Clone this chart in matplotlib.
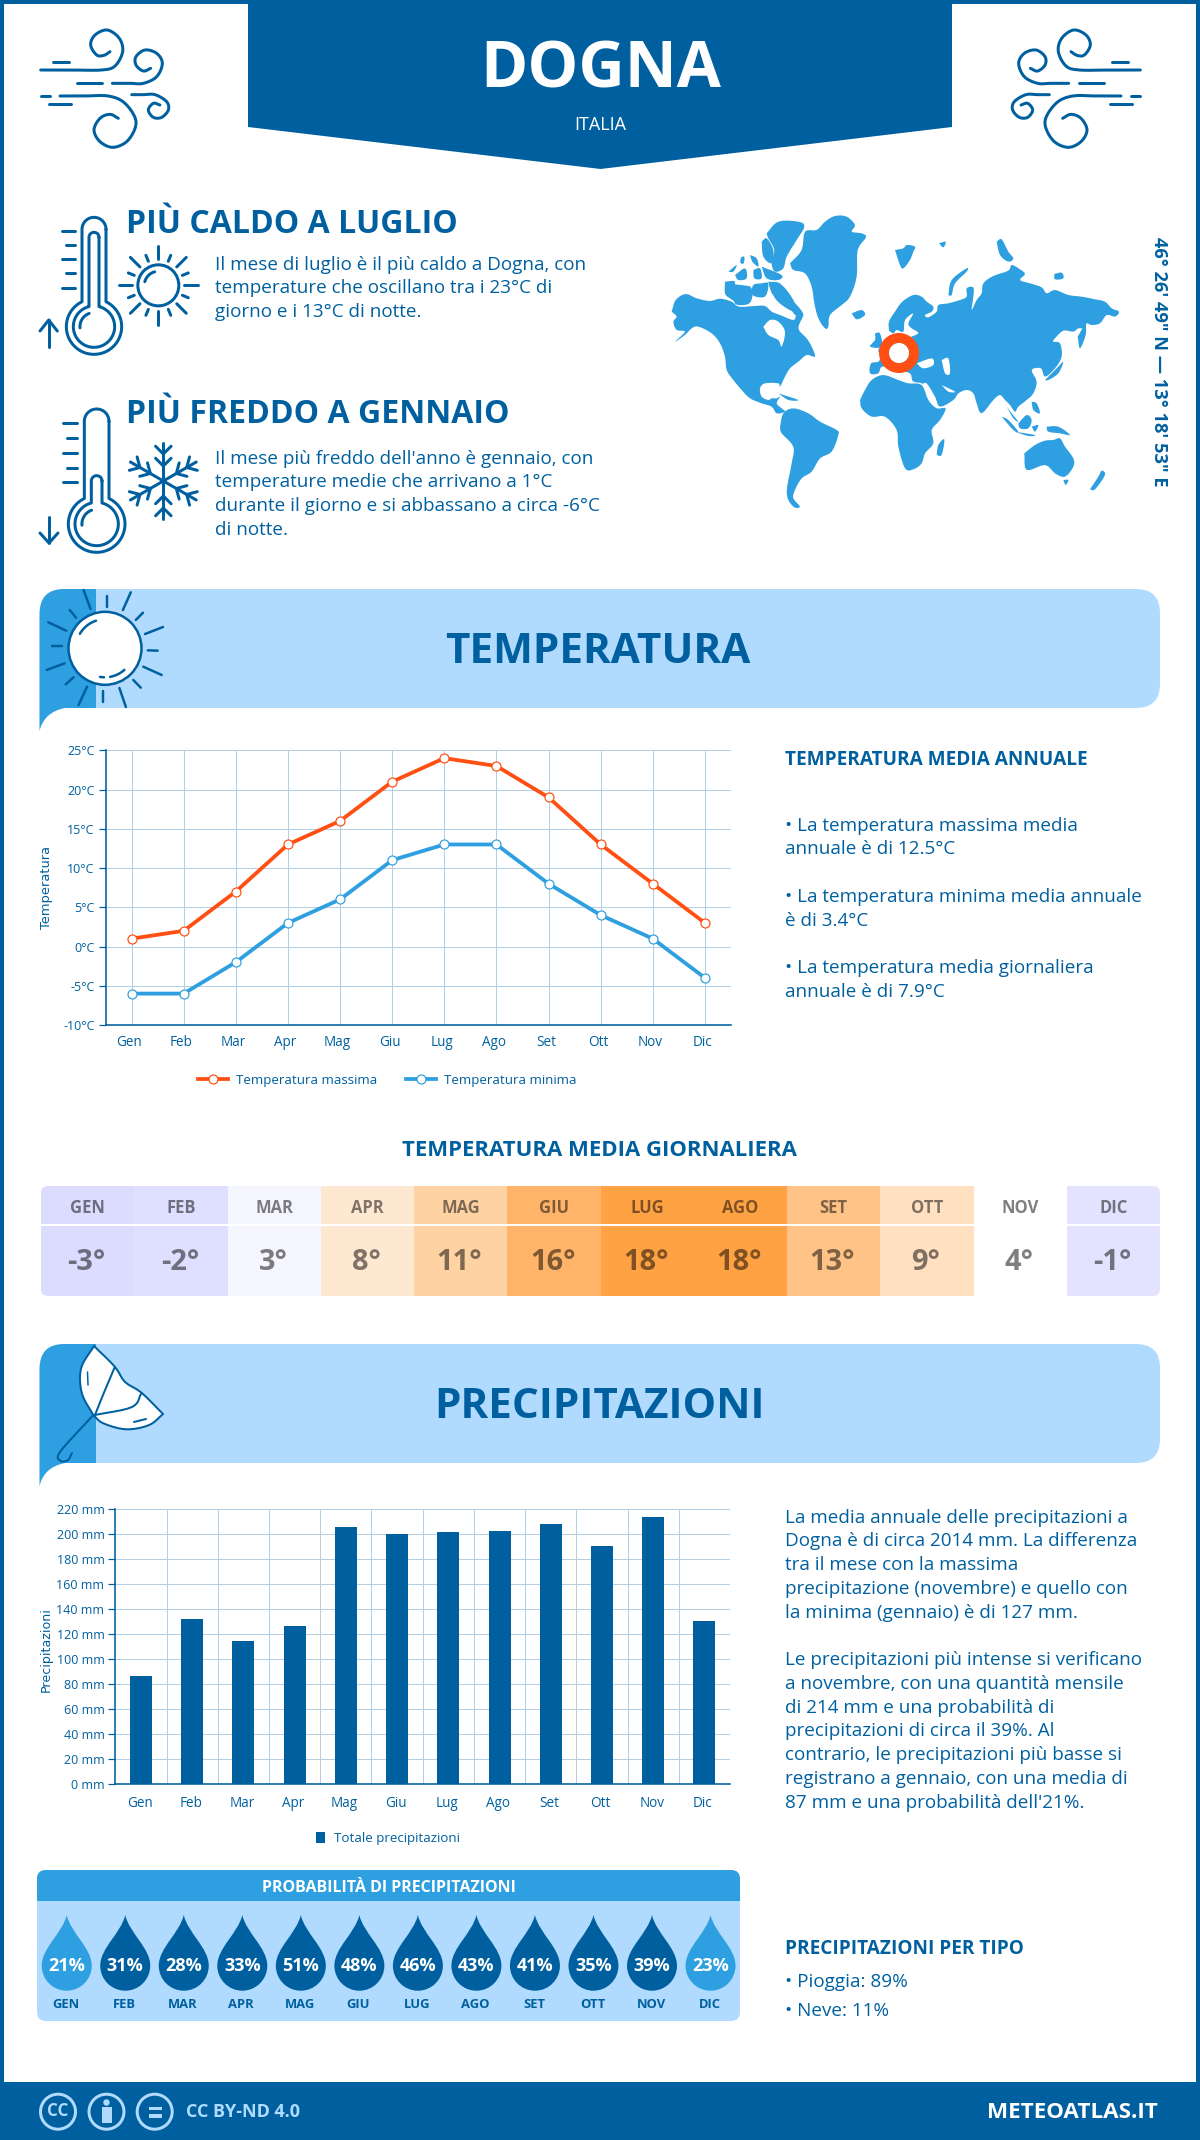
import numpy as np
import matplotlib
matplotlib.use("Agg")
import matplotlib.pyplot as plt
from matplotlib.path import Path
from matplotlib.patches import PathPatch, Polygon, Circle, Rectangle, FancyBboxPatch
from matplotlib.ticker import FuncFormatter
from matplotlib.transforms import ScaledTranslation

plt.rcParams['font.family'] = ['Open Sans', 'DejaVu Sans']

W, H = 1200, 2140
DARK = '#00609F'
MID = '#2E9FE0'
LIGHT = '#B0DBFF'
RED = '#FF4F12'
GRID = '#B4CFE4'

months = ['Gen', 'Feb', 'Mar', 'Apr', 'Mag', 'Giu', 'Lug', 'Ago', 'Set', 'Ott', 'Nov', 'Dic']
months_up = ['GEN', 'FEB', 'MAR', 'APR', 'MAG', 'GIU', 'LUG', 'AGO', 'SET', 'OTT', 'NOV', 'DIC']
temp_max = [1, 2, 7, 13, 16, 21, 24, 23, 19, 13, 8, 3]
temp_min = [-6, -6, -2, 3, 6, 11, 13, 13, 8, 4, 1, -4]
temp_mean = [-3, -2, 3, 8, 11, 16, 18, 18, 13, 9, 4, -1]
mean_colors = ['#DCDCFF', '#DFDFFF', '#F5F5FF', '#FFE8D1', '#FFD2A3', '#FFB469',
               '#FFA244', '#FFA244', '#FFC388', '#FFE0C1', '#FFFFFF', '#E3E3FF']
rain_mm = [87, 132, 115, 127, 206, 200, 202, 203, 208, 191, 214, 131]
rain_prob = [21, 31, 28, 33, 51, 48, 46, 43, 41, 35, 39, 23]


def fs(px):
    # font size given in image pixels
    return px * 0.72


def lw(px):
    return px * 0.72


fig = plt.figure(figsize=(W / 100, H / 100), dpi=100, facecolor='white')
bg = fig.add_axes([0, 0, 1, 1], zorder=0)
bg.set_xlim(0, W)
bg.set_ylim(H, 0)
bg.axis('off')


def px_axes(left, top, right, bottom):
    ax = fig.add_axes([left / W, 1 - bottom / H, (right - left) / W, (bottom - top) / H], zorder=2)
    ax.patch.set_alpha(0)
    return ax


def label(x, y, s, px, color=DARK, weight='normal', ha='left', va='center', **kw):
    # va=center sits a little high for this font
    return bg.text(x, y + px * 0.08 + 1, s, fontsize=fs(px), color=color, fontweight=weight, ha=ha, va=va, **kw)


def smooth(pts, n=12):
    # catmull-rom through the points, good enough for the line icons
    p = np.array(pts, dtype=float)
    p = np.vstack([2 * p[0] - p[1], p, 2 * p[-1] - p[-2]])
    out = []
    for i in range(1, len(p) - 2):
        for t in np.linspace(0, 1, n, endpoint=False):
            a = 2 * p[i] + (p[i + 1] - p[i - 1]) * t
            b = (2 * p[i - 1] - 5 * p[i] + 4 * p[i + 1] - p[i + 2]) * t * t
            c = (3 * p[i] - p[i - 1] - 3 * p[i + 1] + p[i + 2]) * t ** 3
            out.append(0.5 * (a + b + c))
    out.append(p[-2])
    return np.array(out)


def stroke(pts, width=3.0, color=DARK, z=3):
    pts = np.asarray(pts, dtype=float)
    bg.plot(pts[:, 0], pts[:, 1], color=color, lw=lw(width), solid_capstyle='round',
            solid_joinstyle='round', zorder=z)


def arc(cx, cy, r, a0, a1, n=40):
    t = np.radians(np.linspace(a0, a1, n))
    return np.column_stack([cx + r * np.cos(t), cy - r * np.sin(t)])


# frame and footer
bg.add_patch(Rectangle((0, 0), 4, H, color=DARK, lw=0))
bg.add_patch(Rectangle((W - 4, 0), 4, H, color=DARK, lw=0))
bg.add_patch(Rectangle((0, 0), W, 3.5, color=DARK, lw=0))
bg.add_patch(Rectangle((0, 2082), W, 58, color=DARK, lw=0))
bg.add_patch(Polygon([(248, 0), (952, 0), (952, 127), (600.5, 169), (248, 127)], color=DARK, lw=0))
label(601, 65, 'DOGNA', 64, color='white', weight='bold', ha='center')
label(600, 123, 'ITALIA', 18, color='white', ha='center')

# wind icons
wind_curves = [
    [(32, 150), (120, 150), (215, 150), (255, 138), (278, 95), (268, 55), (232, 30), (195, 45), (182, 75), (200, 105), (222, 106), (240, 95)],
    [(247, 190), (300, 190), (340, 190), (380, 170), (397, 130), (380, 100), (345, 90), (318, 110), (318, 135), (340, 153), (362, 145)],
    [(90, 228), (160, 228), (235, 228), (285, 250), (318, 305), (295, 360), (250, 382), (210, 365), (192, 330), (210, 295), (240, 283), (265, 295)],
    [(305, 224), (340, 224), (375, 224), (410, 245), (415, 270), (395, 292), (370, 292), (355, 270), (370, 250), (390, 255)],
]
wind_dashes = [[(140, 190), (215, 190)], [(70, 125), (118, 125)], [(32, 228), (60, 228)], [(56, 252), (123, 252)]]
for mirrored in (False, True):
    for shape in wind_curves + wind_dashes:
        pts = smooth(shape) if len(shape) > 2 else np.array(shape, dtype=float)
        xy = np.column_stack([30 + pts[:, 0] / 3, 20 + pts[:, 1] / 3])
        if mirrored:
            xy[:, 0] = 1181 - xy[:, 0]
        stroke(xy)


def thermo(cx, top, cy, half, r, in_half, in_top, in_r):
    # crop coordinates -> image pixels
    def conv(a):
        a = np.asarray(a)
        return np.column_stack([30 + a[:, 0] / 3, 205 + a[:, 1] / 3])
    a_out = np.degrees(np.arcsin(half / r))
    outer = np.vstack([arc(cx, top + half, half, 0, 180),
                       arc(cx, cy, r, 90 + a_out, 450 - a_out, 80)])
    outer = np.vstack([outer, outer[:1]])
    stroke(conv(outer))
    a_in = np.degrees(np.arcsin(in_half / in_r))
    inner = np.vstack([arc(cx, in_top + in_half, in_half, 0, 180),
                       arc(cx, cy, in_r, 90 + a_in, 450 - a_in, 80)])
    inner = np.vstack([inner, inner[:1]])
    stroke(conv(inner))
    stroke(conv(arc(cx, cy, in_r * 0.68, 110, 185, 15)))


thermo(192, 37, 365, 36, 83, 15, 82, 62)
thermo(200, 612, 957, 37, 85, 16, 812, 65)
for y0, x0, x1 in [(77, 97, 135), (120, 107, 135), (163, 97, 135), (205, 107, 135), (248, 97, 135)]:
    stroke([(30 + x0 / 3, 205 + y0 / 3), (30 + x1 / 3, 205 + y0 / 3)])
for y0, x0, x1 in [(655, 100, 140), (700, 110, 140), (744, 100, 140), (788, 110, 140), (832, 100, 140)]:
    stroke([(30 + x0 / 3, 205 + y0 / 3), (30 + x1 / 3, 205 + y0 / 3)])
# arrows
stroke([(48.7, 346.7), (48.7, 320)])
stroke([(40, 331), (48.7, 320), (57.3, 331)])
stroke([(49, 516.7), (49, 543)])
stroke([(40, 533), (49, 543), (58, 533)])

# little sun
sun_x, sun_y = 30 + 385 / 3, 205 + 241 / 3
bg.add_patch(Circle((sun_x, sun_y), 20.5, fill=False, ec=DARK, lw=lw(3), zorder=3))
stroke(arc(sun_x, sun_y, 14, 105, 165, 12))
for k in range(16):
    ang = np.radians(k * 22.5)
    r0, r1 = (26, 39.5) if k % 2 == 0 else (26, 32.5)
    stroke([(sun_x + r0 * np.cos(ang), sun_y - r0 * np.sin(ang)),
            (sun_x + r1 * np.cos(ang), sun_y - r1 * np.sin(ang))])

# snowflake
fl_x, fl_y = 30 + 400 / 3, 205 + 828 / 3
for k in range(6):
    ang = np.radians(90 + k * 60)
    u = np.array([np.cos(ang), -np.sin(ang)])
    stroke([(fl_x, fl_y), (fl_x + 38 * u[0], fl_y + 38 * u[1])])
    for dist, wing in [(15, 11), (27, 11)]:
        for side in (-1, 1):
            a2 = ang + side * np.radians(45)
            v = np.array([np.cos(a2), -np.sin(a2)])
            base = np.array([fl_x, fl_y]) + dist * u
            stroke([base, base + wing * v])

# side headings and texts
label(126, 221, 'PIÙ CALDO A LUGLIO', 32, weight='bold')
for y, s in zip([262.5, 285.5, 309.5], ['Il mese di luglio è il più caldo a Dogna, con',
                                        'temperature che oscillano tra i 23°C di',
                                        'giorno e i 13°C di notte.']):
    label(215, y, s, 18.9)
label(126, 411, 'PIÙ FREDDO A GENNAIO', 32, weight='bold')
for y, s in zip([456.5, 479.5, 503.5, 527.5], ["Il mese più freddo dell'anno è gennaio, con",
                                               'temperature medie che arrivano a 1°C',
                                               'durante il giorno e si abbassano a circa -6°C',
                                               'di notte.']):
    label(215, y, s, 18.9)

# world map, outlines traced on a 3x crop starting at (665, 200)
land = [
    # north america
    [(20, 335), (32, 300), (62, 282), (95, 295), (135, 303), (165, 296), (200, 305), (222, 320), (270, 318), (300, 318), (320, 335), (345, 345), (385, 360), (395, 345), (415, 345), (400, 385), (425, 415), (440, 440), (450, 470), (425, 465), (400, 485), (375, 505), (360, 530), (345, 560), (340, 550), (300, 550), (285, 565), (290, 590), (310, 600), (320, 595), (335, 595), (345, 590), (335, 610), (350, 625), (360, 635), (335, 640), (320, 620), (290, 610), (255, 595), (230, 570), (205, 540), (185, 510), (180, 470), (165, 430), (140, 400), (100, 380), (80, 385), (60, 405), (30, 425), (60, 395), (35, 390), (25, 365), (35, 350)],
    # arctic islands
    [(310, 245), (345, 250), (365, 285), (400, 320), (415, 345), (390, 345), (360, 300), (325, 285), (315, 265)],
    [(180, 245), (210, 245), (205, 280), (235, 258), (250, 285), (225, 310), (195, 295), (180, 280)],
    [(200, 252), (235, 256), (258, 262), (262, 290), (250, 312), (215, 314), (205, 295)],
    [(265, 210), (285, 205), (290, 235), (268, 235)],
    [(190, 215), (215, 195), (205, 215)],
    [(210, 225), (240, 205), (245, 235), (220, 240)],
    [(255, 165), (275, 175), (280, 200), (262, 185)],
    [(290, 250), (310, 250), (300, 290), (262, 285), (265, 255)],
    [(318, 255), (350, 255), (385, 300), (395, 335), (365, 325), (330, 295)],
    [(305, 100), (340, 65), (400, 65), (418, 80), (395, 120), (365, 170), (355, 205), (330, 215), (320, 190), (328, 150), (310, 115)],
    [(290, 125), (305, 115), (325, 150), (320, 190), (295, 170)],
    [(290, 200), (350, 225), (340, 240), (305, 235)],
    [(228, 172), (238, 170), (236, 190), (226, 188)],
    # greenland, iceland, svalbard and northern islands
    [(375, 190), (410, 150), (420, 95), (455, 90), (480, 65), (510, 48), (545, 50), (570, 75), (560, 95), (590, 100), (603, 112), (578, 150), (575, 230), (555, 290), (530, 315), (495, 345), (490, 380), (480, 385), (460, 355), (448, 310), (440, 260), (420, 220), (385, 210)],
    [(560, 340), (590, 330), (600, 345), (575, 358)],
    [(690, 150), (715, 145), (725, 135), (750, 140), (745, 155), (735, 180), (715, 205), (705, 195)],
    [(822, 130), (842, 125), (835, 142)],
    [(850, 285), (860, 240), (905, 205), (905, 215), (870, 250), (860, 285)],
    [(995, 125), (1010, 118), (1030, 155), (1045, 175), (1030, 185), (1005, 165)],
    [(1168, 222), (1190, 218), (1195, 235), (1170, 238)],
    # eurasia
    [(672, 392), (672, 365), (690, 335), (712, 305), (745, 285), (770, 290), (785, 305), (805, 320), (800, 335), (780, 345), (790, 352), (815, 335), (820, 315), (850, 310), (885, 300), (905, 290), (905, 265), (925, 262), (925, 290), (920, 330), (935, 300), (950, 280), (955, 250), (985, 228), (1030, 212), (1040, 195), (1065, 208), (1080, 222), (1065, 240), (1095, 250), (1130, 262), (1145, 280), (1170, 270), (1210, 285), (1250, 290), (1290, 298), (1320, 305), (1340, 325), (1362, 335), (1350, 350), (1325, 345), (1305, 370), (1280, 375), (1265, 370), (1260, 385), (1240, 385), (1225, 395), (1195, 392), (1170, 415), (1165, 425), (1185, 430), (1190, 470), (1170, 505), (1140, 530), (1128, 505), (1100, 510), (1115, 545), (1105, 580), (1085, 600), (1060, 620), (1050, 635), (1035, 615), (1020, 600), (1005, 585), (985, 600), (950, 640), (935, 610), (925, 580), (905, 570), (880, 580), (865, 600), (825, 620), (810, 590), (785, 550), (770, 550), (750, 520), (780, 545), (745, 545), (735, 520), (700, 512), (680, 505), (650, 500), (640, 520), (615, 520), (618, 490), (640, 485), (650, 465), (640, 450), (670, 410), (710, 405), (720, 415), (760, 400), (740, 385), (730, 370), (745, 340), (720, 360), (715, 395), (695, 390), (685, 400)],
    [(630, 400), (645, 400), (650, 440), (615, 440), (630, 420)],
    [(1238, 410), (1260, 375), (1262, 405), (1245, 445)],
    [(1140, 540), (1175, 505), (1195, 485), (1180, 520), (1150, 540)],
    # africa, south america, oceania
    [(585, 600), (600, 570), (620, 540), (655, 525), (700, 540), (730, 550), (770, 555), (790, 600), (815, 625), (842, 625), (825, 660), (800, 690), (805, 730), (780, 760), (770, 790), (745, 808), (720, 805), (700, 740), (695, 690), (660, 650), (620, 650), (590, 625)],
    [(815, 765), (820, 735), (838, 718), (830, 765)],
    [(345, 680), (355, 640), (385, 625), (430, 640), (465, 665), (515, 690), (520, 705), (500, 755), (465, 775), (440, 815), (410, 835), (390, 870), (385, 895), (405, 920), (385, 920), (365, 880), (380, 790), (385, 740), (350, 700)],
    [(1078, 760), (1110, 735), (1140, 722), (1165, 720), (1185, 715), (1200, 740), (1225, 775), (1225, 800), (1200, 830), (1170, 820), (1140, 795), (1085, 810)],
    [(1195, 840), (1210, 840), (1202, 855)],
    [(1275, 868), (1300, 830), (1310, 812), (1320, 825), (1290, 868)],
    [(1010, 650), (1030, 660), (1060, 695), (1045, 690)],
    [(1050, 695), (1110, 705), (1090, 708)],
    [(1060, 670), (1085, 645), (1100, 660), (1090, 685), (1065, 685)],
    [(1100, 680), (1120, 675), (1110, 695)],
    [(1145, 680), (1180, 680), (1215, 705), (1185, 700), (1150, 695)],
    [(1100, 605), (1115, 610), (1125, 640), (1105, 630)],
    [(1025, 620), (1040, 640), (1060, 665), (1045, 655)],
    [(340, 580), (400, 600), (370, 600)],
]
water = [
    [(295, 380), (315, 360), (340, 365), (360, 395), (350, 440), (340, 420), (310, 405)],
    [(755, 490), (800, 475), (805, 495), (775, 505)],
    [(830, 480), (850, 475), (855, 520), (840, 520)],
    [(830, 555), (870, 575), (850, 575)],
]
for shape, col in [(s, MID) for s in land] + [(s, 'white') for s in water]:
    xy = smooth(shape + shape[:1], 4)
    bg.add_patch(Polygon(np.column_stack([665 + xy[:, 0] / 3, 200 + xy[:, 1] / 3]),
                         closed=True, color=col, lw=0, zorder=2))
bg.add_patch(Circle((899, 353), 15, fill=False, ec=RED, lw=lw(10), zorder=4))
bg.add_patch(Circle((899, 353), 10, color='white', lw=0, zorder=4))
label(1159, 359, '46° 26\' 49" N — 13° 18\' 53" E', 18.3, weight='bold', ha='center', rotation=-90)


def band(top, bottom, title, title_x):
    # light band with the darker folded corner on the left
    bg.add_patch(FancyBboxPatch((60, top), 1100, bottom - top,
                                boxstyle='round,pad=0,rounding_size=24', color=LIGHT, lw=0, zorder=1))
    verts = [(96, top), (64, top), (39.5, top), (39.5, top + 25), (39.5, bottom + 23),
             (44, bottom + 4), (65, bottom), (96, bottom), (96, top)]
    codes = [Path.MOVETO, Path.LINETO, Path.CURVE3, Path.CURVE3, Path.LINETO,
             Path.CURVE3, Path.CURVE3, Path.LINETO, Path.CLOSEPOLY]
    bg.add_patch(PathPatch(Path(verts, codes), color=MID, lw=0, zorder=1.5))
    label(title_x, (top + bottom) / 2, title, 42.3, weight='bold', ha='center')


band(589, 708, 'TEMPERATURA', 598)
band(1344, 1463, 'PRECIPITAZIONI', 600)

# sun in the temperature band
bg.add_patch(Circle((105, 648.3), 36.5, fc='white', ec=DARK, lw=lw(2.5), zorder=3))
stroke(arc(105, 648.3, 29, 108, 150, 12), 2.5)
stroke(arc(105, 648.3, 29, -80, -48, 10), 2.5)
stroke(arc(105, 648.3, 29, -100, -92, 4), 2.5)
sun_rays = [[(83.6, 590), (90.5, 609)], [(106.5, 596), (106.5, 606.7)], [(130.8, 592.3), (122.9, 610)],
            [(143, 612.7), (135.8, 620)], [(163, 627), (145, 634)], [(157.7, 650.7), (147.8, 650.3)],
            [(161.7, 675), (143.3, 666.7)], [(140.8, 687.7), (133.3, 680)], [(125.9, 707), (119.4, 688)],
            [(103, 701.7), (103, 691)], [(78.6, 705), (87, 686.7)], [(65.7, 684.3), (73.6, 677.3)],
            [(46.8, 670), (64.7, 663.3)], [(52.2, 646.3), (62.2, 646.3)], [(48.3, 622.3), (66.2, 630.7)],
            [(69.7, 610), (76.1, 617.7)]]
for ray in sun_rays:
    stroke(ray, 2.5)

# umbrella in the rain band
canopy_right = [(94, 1346), (114.8, 1366.7), (125, 1382), (141.5, 1392.7), (163, 1414)]
canopy_bottom = [(163, 1414), (149.2, 1425), (126.2, 1429.3), (103.3, 1423.3), (93.3, 1415)]
canopy_left = [(93.3, 1415), (81.9, 1393.3), (81.1, 1368.3), (94, 1346)]
canopy_pts = np.vstack([smooth(canopy_right, 4), smooth(canopy_bottom, 6), smooth(canopy_left, 6)])
bg.add_patch(Polygon(canopy_pts, closed=True, fc='white', ec=DARK, lw=lw(2), zorder=3))
stroke(smooth([(114.8, 1367), (103, 1395), (95, 1415)], 6), 2)
stroke(smooth([(141.5, 1393), (132, 1407), (95, 1415)], 6), 2)
stroke(smooth([(93.3, 1415), (60, 1452), (61, 1461), (68, 1460), (72, 1453)], 6), 2)
stroke([(87.5, 1372), (88, 1385)], 1.5)
stroke([(134, 1422), (146, 1419)], 2)

# line chart
ax = px_axes(105.5, 750.3, 731, 1025)
x = np.arange(len(months))
ax.plot(x, temp_max, color=RED, lw=lw(3.8), marker='o', ms=lw(9), mfc='white', mec=RED, mew=lw(1.2),
        label='Temperatura massima')
ax.plot(x, temp_min, color=MID, lw=lw(3.8), marker='o', ms=lw(9), mfc='white', mec=MID, mew=lw(1.2),
        label='Temperatura minima')
ax.set_xlim(-0.5, 11.5)
ax.set_ylim(-10, 25)
ax.set_yticks(range(-10, 26, 5))
ax.yaxis.set_major_formatter(FuncFormatter(lambda v, _: f'{int(v)}°C'))
ax.set_xticks(x)
ax.set_xticklabels(months)
ax.set_ylabel('Temperatura', fontsize=fs(13), color=DARK, family='DejaVu Sans')
ax.yaxis.set_label_coords((53 - 105.5) / 625.5, 0.5)
ax.grid(True, color=GRID, lw=lw(1))
ax.set_axisbelow(True)
ax.legend(loc='center', bbox_to_anchor=(0.451, (1025 - 1080) / 274.7), ncol=2, frameon=False,
          fontsize=fs(13.4), labelcolor=DARK, handlelength=2.24, columnspacing=2.14, handletextpad=0.6)

# bar chart
ax2 = px_axes(115.4, 1509.3, 730, 1784.3)
ax2.bar(x, rain_mm, width=0.43, color=DARK, label='Totale precipitazioni', zorder=3)
ax2.set_xlim(-0.5, 11.5)
ax2.set_ylim(0, 220)
ax2.set_yticks(range(0, 221, 20))
ax2.yaxis.set_major_formatter(FuncFormatter(lambda v, _: f'{int(v)} mm'))
ax2.set_xticks(x)
ax2.set_xticklabels(months)
ax2.set_xticks(x[:-1] + 0.5, minor=True)
ax2.grid(True, axis='y', color=GRID, lw=lw(1))
ax2.grid(True, axis='x', which='minor', color=GRID, lw=lw(1))
ax2.set_axisbelow(True)
ax2.tick_params(axis='x', which='minor', length=0)
ax2.set_ylabel('Precipitazioni', fontsize=fs(12.6), color=DARK, family='DejaVu Sans')
ax2.yaxis.set_label_coords((53 - 115.4) / 614.6, 0.49)
ax2.legend(loc='center', bbox_to_anchor=(0.4435, (1784.3 - 1838.7) / 275), frameon=False, fontsize=fs(13.4),
           labelcolor=DARK, handlelength=0.65, handleheight=0.9, handletextpad=0.7)

for a, pad, shift in [(ax, 10, -2.5), (ax2, 12, -1.5)]:
    a.spines['top'].set_visible(False)
    a.spines['right'].set_visible(False)
    a.spines['left'].set_color(DARK)
    a.spines['bottom'].set_color(DARK)
    a.spines['left'].set_linewidth(lw(1.6))
    a.spines['bottom'].set_linewidth(lw(1.6))
    a.tick_params(axis='y', length=lw(7), width=lw(1.2), color=DARK, labelcolor=DARK, labelsize=fs(12.5), pad=lw(4))
    a.tick_params(axis='x', which='major', length=0, labelcolor=DARK, labelsize=fs(13.5), pad=lw(pad))
    for t in a.get_xticklabels():
        t.set_transform(t.get_transform() + ScaledTranslation(shift / 100, 0, fig.dpi_scale_trans))

# daily mean table
table_l, table_r = 41, 1160
cell = (table_r - table_l) / 12
clip = FancyBboxPatch((table_l, 1186), table_r - table_l, 110, boxstyle='round,pad=0,rounding_size=7',
                      fc='none', ec='none')
bg.add_patch(clip)
for i, (m, v, c) in enumerate(zip(months_up, temp_mean, mean_colors)):
    r = Rectangle((table_l + i * cell, 1186), cell + 0.5, 110, color=c, lw=0)
    bg.add_patch(r)
    r.set_clip_path(clip)
    cx = table_l + (i + 0.5) * cell
    label(cx, 1206, m, 16.5, color='black', weight='bold', ha='center', alpha=0.5, zorder=3)
    label(cx - 1, 1259, f'{v}°', 29, color='black', weight='bold', ha='center', alpha=0.5, zorder=3)
bg.plot([table_l, table_r], [1225.3, 1225.3], color='white', lw=lw(2), zorder=2)
label(599, 1148, 'TEMPERATURA MEDIA GIORNALIERA', 22.2, weight='bold', ha='center')

# right hand column
label(785, 757, 'TEMPERATURA MEDIA ANNUALE', 19, weight='bold')
for y, s in zip([823.3, 846.3, 894.7, 918.3, 965.7, 989],
                ['• La temperatura massima media', 'annuale è di 12.5°C',
                 '• La temperatura minima media annuale', 'è di 3.4°C',
                 '• La temperatura media giornaliera', 'annuale è di 7.9°C']):
    label(785, y, s, 18.9)
for y, s in zip([1515, 1538, 1562, 1586, 1610, 1657, 1681, 1705, 1728, 1752, 1776, 1800],
                ['La media annuale delle precipitazioni a', 'Dogna è di circa 2014 mm. La differenza',
                 'tra il mese con la massima', 'precipitazione (novembre) e quello con',
                 'la minima (gennaio) è di 127 mm.', 'Le precipitazioni più intense si verificano',
                 'a novembre, con una quantità mensile', 'di 214 mm e una probabilità di',
                 'precipitazioni di circa il 39%. Al', 'contrario, le precipitazioni più basse si',
                 'registrano a gennaio, con una media di', "87 mm e una probabilità dell'21%."]):
    label(785, y, s, 18.9)
label(785, 1946, 'PRECIPITAZIONI PER TIPO', 19, weight='bold')
label(785, 1979, '• Pioggia: 89%', 18.9)
label(785, 2008, '• Neve: 11%', 18.9)

# rain probability panel
bg.add_patch(FancyBboxPatch((37, 1870), 703, 151, boxstyle='round,pad=0,rounding_size=9', color=LIGHT, lw=0))
head = FancyBboxPatch((37, 1870), 703, 40, boxstyle='round,pad=0,rounding_size=9', color=MID, lw=0)
bg.add_patch(head)
bg.add_patch(Rectangle((37, 1901), 703, 12, color=LIGHT, lw=0, zorder=1.2))
label(389, 1886, 'PROBABILITÀ DI PRECIPITAZIONI', 16, color='white', weight='bold', ha='center', zorder=3)


def drop(cx, color):
    tip, cy, r = 1915, 1965.7, 25
    k = 0.5523 * r
    verts = [(cx, tip), (cx + 4, tip + 18), (cx + r, cy - 18), (cx + r, cy),
             (cx + r, cy + k), (cx + k, cy + r), (cx, cy + r),
             (cx - k, cy + r), (cx - r, cy + k), (cx - r, cy),
             (cx - r, cy - 18), (cx - 4, tip + 18), (cx, tip), (cx, tip)]
    codes = [Path.MOVETO] + [Path.CURVE4] * 12 + [Path.CLOSEPOLY]
    bg.add_patch(PathPatch(Path(verts, codes), color=color, lw=0, zorder=2))


for i, (m, p) in enumerate(zip(months_up, rain_prob)):
    cx = 66.7 + i * 58.53
    drop(cx, MID if p < 25 else DARK)
    label(cx, 1964, f'{p}%', 18, color='white', weight='bold', ha='center', zorder=3)
    label(cx - 1, 2002.5, m, 13, weight='bold', ha='center', zorder=3)

# footer badges
for cx in (58, 106.5, 154.7):
    bg.add_patch(Circle((cx, 2111.7), 17.5, fill=False, ec=LIGHT, lw=lw(3), zorder=3))
label(58, 2109, 'CC', 17, color=LIGHT, weight='bold', ha='center', zorder=4)
bg.add_patch(Circle((106.5, 2102.5), 3.2, color=LIGHT, lw=0, zorder=4))
bg.add_patch(Rectangle((101.5, 2106.5), 10, 16, color=LIGHT, lw=0, zorder=4))
bg.add_patch(Rectangle((148.5, 2106.5), 13, 3.6, color=LIGHT, lw=0, zorder=4))
bg.add_patch(Rectangle((148.5, 2114), 13, 3.6, color=LIGHT, lw=0, zorder=4))
label(185.5, 2110, 'CC BY-ND 4.0', 18, color=LIGHT, weight='bold', zorder=4)
label(1158, 2110, 'METEOATLAS.IT', 22.4, color='white', weight='bold', ha='right', zorder=4)

fig.savefig('out.png', dpi=100, facecolor='white')
